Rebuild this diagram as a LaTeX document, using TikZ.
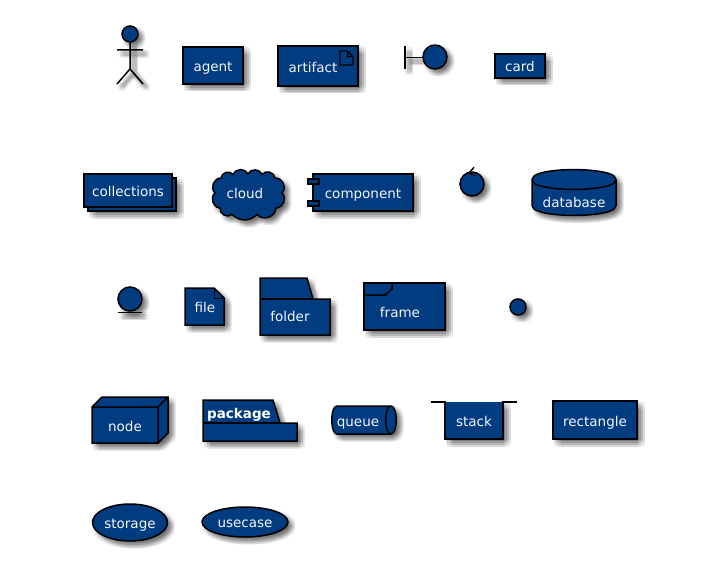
\documentclass[tikz,border=0pt]{standalone}
\usepackage{fontspec}
\setmainfont{DejaVu Sans}
\definecolor{umlblue}{HTML}{013C80}
\definecolor{umltext}{HTML}{F4F6FA}
\tikzset{
  sym/.style={draw=black,fill=umlblue,line width=1.5pt,line join=miter},
  ink/.style={draw=black,line width=1.5pt},
  lab/.style={text=umltext,anchor=base,inner sep=0pt,outer sep=0pt,font=\fontsize{13.5pt}{16pt}\selectfont},
  boldlab/.style={lab,font=\fontsize{13.5pt}{16pt}\selectfont\bfseries,text=white},
  lobe/.style={bend left=68,looseness=1.15},
  widelobe/.style={bend left=42,looseness=1.1}
}
\newcommand\softfill[1]{\foreach \ox in {.5,2.25,4,5.75,7.5}{\foreach \oy in {.5,2.25,4,5.75,7.5}{\fill[shift={(\ox,\oy)},black,fill opacity=.03] #1;}}}
\newcommand\softline[1]{\foreach \ox in {1.5,2.75,4,5.25,6.5}{\foreach \oy in {1.5,2.75,4,5.25,6.5}{\path[shift={(\ox,\oy)},draw=black,draw opacity=.028,line width=2.5pt] #1;}}}
\newcommand\solid[1]{\softfill{#1}\path[sym] #1;}
\begin{document}
\begin{tikzpicture}[x=1pt,y=-1pt]
\useasboundingbox (0,0) rectangle (721,578);
\fill[white] (0,0) rectangle (721,578);
% actor
\softline{(130,42) -- (130,69) (117,50) -- (143,50) (130,69) -- (117,84) (130,69) -- (143,84)}
\solid{(130,34) circle (8)}
\draw[ink] (130,42) -- (130,69) (117,50) -- (143,50) (130,69) -- (117,84) (130,69) -- (143,84);
% agent
\solid{(183,47) rectangle (243,84)}
\node[lab] (agent) at (213,71.5) {agent};
% artifact
\solid{(278,46) rectangle (358,86)}
\node[lab] (artifact) at (313,73) {artifact};
\draw[ink,line width=1.3pt] (340,51) -- (347.5,51) -- (353,56.5) -- (353,65) -- (340,65) -- cycle (347.5,51) -- (347.5,56.5) -- (353,56.5);
% boundary
\softline{(405,46) -- (405,69) (405,57.5) -- (423,57.5)}
\draw[ink] (405,46) -- (405,69) (405,57.5) -- (423,57.5);
\solid{(435,57) circle (12)}
% card
\solid{(495,54) rectangle (545,78)}
\node[lab] (card) at (520,71.5) {card};
% collections
\solid{(88,178) rectangle (176,211)}
\path[sym] (84,174) rectangle (172,207);
\node[lab] (collections) at (128,196) {collections};
% cloud
\solid{(215,193) to[lobe] (221,178) to[lobe] (233,174.5) to[lobe] (248,174) to[lobe] (262,174.5) to[lobe] (275,178) to[lobe] (282,193) to[lobe] (276,208) to[lobe] (257,214.5) to[widelobe] (232,214.5) to[lobe] (220,208) to[lobe] cycle}
\node[lab] (cloud) at (245,198) {cloud};
% component
\solid{(313,174) rectangle (413,211)}
\path[sym] (308,179) rectangle (319,184) (308,201) rectangle (319,206);
\node[lab] (component) at (363,198) {component};
% control
\solid{(472,184) circle (12)}
\draw[ink] (474,167.3) -- (469.3,172.7) -- (475,176);
% database
\solid{(532,179.5) .. controls (532,169.5) and (574,169.5) .. (574,169.5) .. controls (574,169.5) and (616,169.5) .. (616,179.5) -- (616,205.5) .. controls (616,215.5) and (574,215.5) .. (574,215.5) .. controls (574,215.5) and (532,215.5) .. (532,205.5) -- cycle}
\draw[ink] (532,179.5) .. controls (532,189.5) and (574,189.5) .. (574,189.5) .. controls (574,189.5) and (616,189.5) .. (616,179.5);
\node[lab] (database) at (574,207) {database};
% entity
\softline{(118,312) -- (142,312)}
\solid{(130,299) circle (12)}
\draw[ink] (118,312.5) -- (142,312.5);
% file
\solid{(185,288) -- (214,288) -- (224,298) -- (224,325) -- (185,325) -- cycle}
\draw[ink,line width=1pt] (214,288) -- (214,298) -- (224,298);
\node[lab] (file) at (205,312) {file};
% folder
\solid{(260,278) -- (307,278) -- (313,299) -- (330,299) -- (330,335) -- (260,335) -- cycle}
\draw[ink] (260,299) -- (313,299);
\node[lab] (folder) at (290,321) {folder};
% frame
\solid{(364,283) rectangle (445,330)}
\draw[ink] (364,295) -- (385,295) -- (392,289) -- (392,283);
\node[lab] (frame) at (400,317) {frame};
% interface
\solid{(518,307) circle (8)}
% node
\solid{(92,407) -- (102,397) -- (168,397) -- (168,433) -- (158,443) -- (92,443) -- cycle}
\draw[ink] (92,407) -- (158,407) -- (168,397) (158,407) -- (158,443);
\node[lab] (node) at (125,431) {node};
% package
\solid{(203,400) -- (273,400) -- (280,423) -- (297,423) -- (297,441) -- (203,441) -- cycle}
\draw[ink] (203,423) -- (280,423);
\node[boldlab] (package) at (239,418) {package};
% queue
\solid{(337,406) .. controls (330,406) and (330,434) .. (337,434) -- (391,434) .. controls (398,434) and (398,406) .. (391,406) -- cycle}
\draw[ink] (391,406) .. controls (384,406) and (384,434) .. (391,434);
\node[lab] (queue) at (358,426) {queue};
% stack
\softfill{(445,402) rectangle (503,439)}
\fill[umlblue] (445,402) rectangle (503,439);
\draw[ink] (431,402) -- (445,402) -- (445,439) -- (503,439) -- (503,402) -- (517,402);
\node[lab] (stack) at (474,426) {stack};
% rectangle
\solid{(553,401) rectangle (637,439)}
\node[lab] (rectangle) at (595,426) {rectangle};
% storage
\solid{(130,522.5) ellipse (37.5 and 18.5)}
\node[lab] (storage) at (130,528) {storage};
% usecase
\solid{(245,522) ellipse (43 and 15)}
\node[lab] (usecase) at (245,527) {usecase};
\end{tikzpicture}
\end{document}
